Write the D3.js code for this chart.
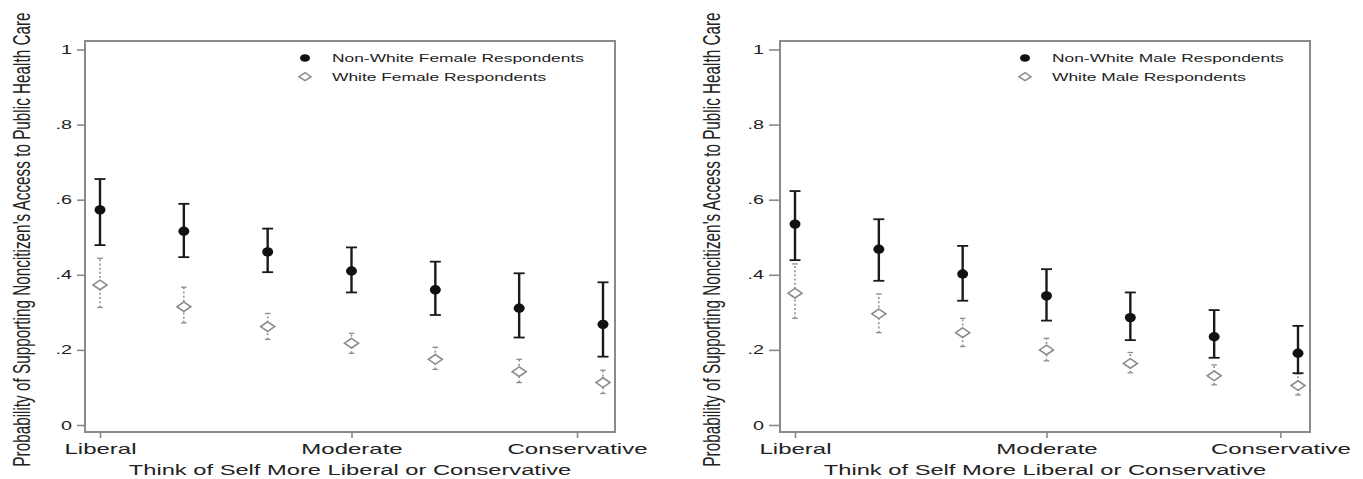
<!DOCTYPE html>
<html><head><meta charset="utf-8">
<script src="https://cdn.jsdelivr.net/npm/d3@7"></script>
<style>
body{margin:0;background:#fff}
svg{display:block}
text{font-family:"Liberation Sans",Arial,Helvetica,sans-serif;fill:#222}
</style>
</head><body>
<svg id="c" width="1363" height="479"></svg>
<script>
// ---------- data ----------
const ideology = [1, 2, 3, 4, 5, 6, 7];
const xTickLabels = ["Liberal", "Moderate", "Conservative"];
const xTickValuesFemale = [1, 4, 6.69];
const xTickValuesMale = [1, 4, 6.79];
const yTickValues = [0, 0.2, 0.4, 0.6, 0.8, 1];
const yTickLabels = ["0", ".2", ".4", ".6", ".8", "1"];
const yTitle = "Probability of Supporting Noncitizen's Access to Public Health Care";
const xTitle = "Think of Self More Liberal or Conservative";

const nonWhiteFemale   = [0.573, 0.516, 0.461, 0.410, 0.360, 0.311, 0.268];
const nonWhiteFemaleLo = [0.479, 0.447, 0.407, 0.353, 0.293, 0.233, 0.182];
const nonWhiteFemaleHi = [0.655, 0.589, 0.523, 0.473, 0.435, 0.404, 0.380];
const whiteFemale      = [0.373, 0.315, 0.262, 0.218, 0.175, 0.142, 0.113];
const whiteFemaleLo    = [0.313, 0.272, 0.228, 0.191, 0.148, 0.113, 0.084];
const whiteFemaleHi    = [0.444, 0.367, 0.297, 0.244, 0.207, 0.175, 0.146];

const nonWhiteMale     = [0.535, 0.468, 0.402, 0.344, 0.286, 0.235, 0.191];
const nonWhiteMaleLo   = [0.439, 0.384, 0.331, 0.278, 0.226, 0.179, 0.138];
const nonWhiteMaleHi   = [0.623, 0.548, 0.477, 0.415, 0.353, 0.306, 0.264];
const whiteMale        = [0.351, 0.296, 0.246, 0.200, 0.164, 0.131, 0.105];
const whiteMaleLo      = [0.284, 0.246, 0.209, 0.171, 0.139, 0.107, 0.080];
const whiteMaleHi      = [0.429, 0.349, 0.284, 0.231, 0.193, 0.160, 0.136];

// ---------- layout ----------
const SX = 1.58; // horizontal stretch of the original picture
const panels = [
  { frame: {l: 85, r: 615, t: 41, b: 432}, yTickSize: 8, titleX: 29.5, legend: {x: 305, y: 58},
    xTicks: xTickValuesFemale,
    series: [
      {name: "Non-White Female Respondents", v: nonWhiteFemale, lo: nonWhiteFemaleLo, hi: nonWhiteFemaleHi, solid: true},
      {name: "White Female Respondents", v: whiteFemale, lo: whiteFemaleLo, hi: whiteFemaleHi, solid: false}
    ]},
  { frame: {l: 780, r: 1310, t: 41, b: 432}, yTickSize: 11, titleX: 720, legend: {x: 1025, y: 58},
    xTicks: xTickValuesMale,
    series: [
      {name: "Non-White Male Respondents", v: nonWhiteMale, lo: nonWhiteMaleLo, hi: nonWhiteMaleHi, solid: true},
      {name: "White Male Respondents", v: whiteMale, lo: whiteMaleLo, hi: whiteMaleHi, solid: false}
    ]}
];

const svg = d3.select("#c");
const diamond = "M0,-4.8L7,0L0,4.8L-7,0Z";

function stretch(sel) {
  sel.each(function () {
    const t = d3.select(this);
    const x0 = +t.attr("x") || 0, y0 = +t.attr("y") || 0;
    t.attr("x", 0).attr("y", 0).attr("transform", `translate(${x0},${y0}) scale(${SX},1)`);
  });
}

panels.forEach(p => {
  const f = p.frame;
  const g = svg.append("g");
  const x = d3.scaleLinear().domain([1, 7]).range([f.l + 15, f.r - 12]);
  const y = d3.scaleLinear().domain([0, 1]).range([f.b - 7, f.t + 8.5]);

  // frame
  g.append("rect").attr("x", f.l).attr("y", f.t).attr("width", f.r - f.l).attr("height", f.b - f.t)
    .attr("fill", "none").attr("stroke", "#8a8a8a").attr("stroke-width", 2);

  // y axis
  const ya = g.append("g").attr("transform", `translate(${f.l},0)`)
    .call(d3.axisLeft(y).tickValues(yTickValues).tickFormat((d, i) => yTickLabels[i])
      .tickSize(p.yTickSize).tickPadding(5));
  ya.select(".domain").remove();
  ya.selectAll(".tick line").attr("stroke", "#8a8a8a").attr("stroke-width", 1.6);
  ya.selectAll(".tick text").attr("font-size", 12.5).attr("fill", "#222").call(stretch);

  // x axis
  const xa = g.append("g").attr("transform", `translate(0,${f.b})`)
    .call(d3.axisBottom(x).tickValues(p.xTicks).tickFormat((d, i) => xTickLabels[i]).tickSize(6));
  xa.select(".domain").remove();
  xa.selectAll(".tick line").attr("stroke", "#8a8a8a").attr("stroke-width", 1.6);
  xa.selectAll(".tick text").attr("font-size", 15.2).attr("fill", "#222")
    .attr("dy", 0).attr("y", 22).call(stretch);

  // titles
  g.append("text").attr("text-anchor", "middle").attr("font-size", 15)
    .attr("transform", `translate(${(f.l + f.r) / 2},475) scale(${SX},1)`).text(xTitle);
  g.append("text").attr("text-anchor", "middle").attr("font-size", 15.3)
    .attr("transform", `translate(${p.titleX},239.5) rotate(-90) scale(1,${SX})`).text(yTitle);

  // series (hollow first so solid sits on top where they could touch)
  [p.series[1], p.series[0]].forEach(s => {
    const sg = g.append("g");
    const col = s.solid ? "#1a1a1a" : "#8c8c8c";
    sg.selectAll("line.ci").data(ideology).join("line")
      .attr("x1", d => x(d)).attr("x2", d => x(d))
      .attr("y1", (d, i) => y(s.lo[i])).attr("y2", (d, i) => y(s.hi[i]))
      .attr("stroke", col).attr("stroke-width", s.solid ? 2.4 : 1.5)
      .attr("stroke-dasharray", s.solid ? null : "2,2.2");
    const cw = s.solid ? 5.5 : 2.8;
    ["lo", "hi"].forEach(k => {
      sg.selectAll("line.cap" + k).data(ideology).join("line")
        .attr("x1", d => x(d) - cw).attr("x2", d => x(d) + cw)
        .attr("y1", (d, i) => y(s[k][i])).attr("y2", (d, i) => y(s[k][i]))
        .attr("stroke", col).attr("stroke-width", s.solid ? 1.8 : 1.3);
    });
    if (s.solid) {
      sg.selectAll("ellipse").data(ideology).join("ellipse")
        .attr("cx", d => x(d)).attr("cy", (d, i) => y(s.v[i]))
        .attr("rx", 5.5).attr("ry", 4.7).attr("fill", "#111");
    } else {
      sg.selectAll("path").data(ideology).join("path")
        .attr("d", diamond)
        .attr("transform", (d, i) => `translate(${x(d)},${y(s.v[i])})`)
        .attr("fill", "#fff").attr("stroke", "#8c8c8c").attr("stroke-width", 1.6);
    }
  });

  // legend
  const lg = g.append("g").attr("transform", `translate(${p.legend.x},${p.legend.y})`);
  p.series.forEach((s, i) => {
    const row = lg.append("g").attr("transform", `translate(0,${i * 18.7})`);
    if (s.solid) row.append("ellipse").attr("rx", 5).attr("ry", 3.8).attr("fill", "#111");
    else row.append("path").attr("d", "M0,-4L6,0L0,4L-6,0Z").attr("fill", "#fff")
      .attr("stroke", "#8c8c8c").attr("stroke-width", 1.5);
    row.append("text").attr("x", 27).attr("y", 4).attr("font-size", 11).text(s.name).call(stretch);
  });
});
</script>
</body></html>
